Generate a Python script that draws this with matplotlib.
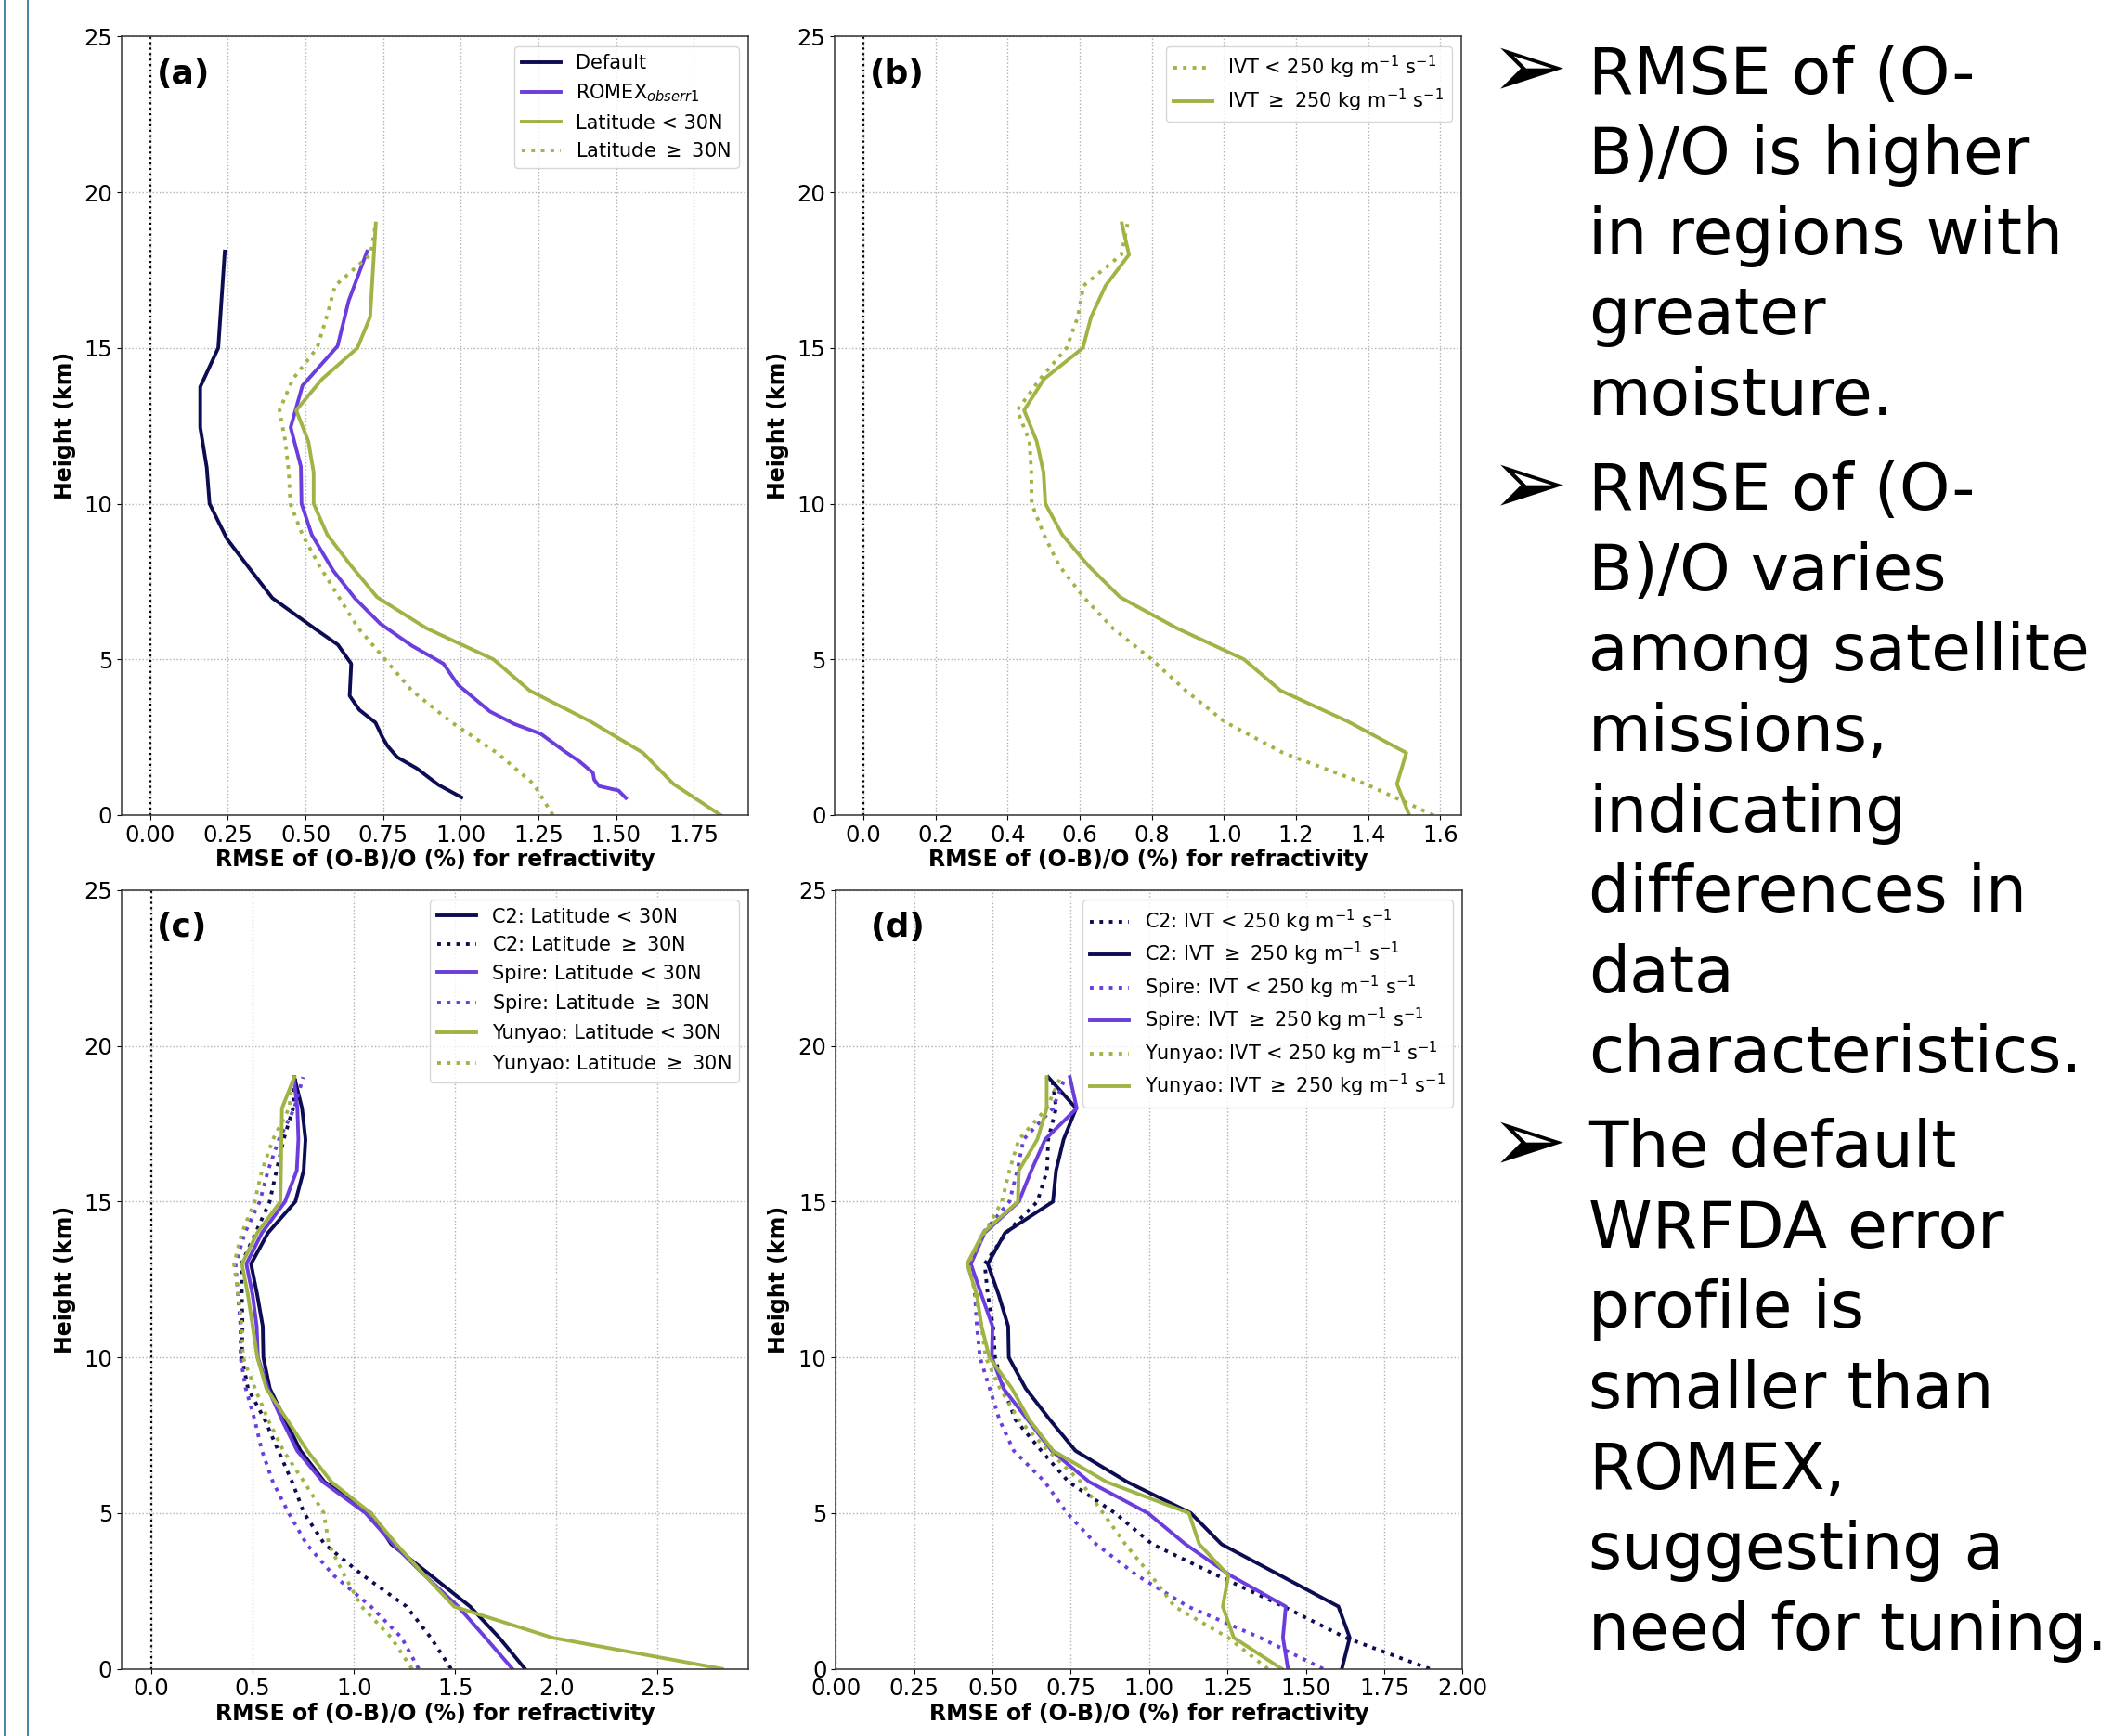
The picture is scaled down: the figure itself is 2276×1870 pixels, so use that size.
import matplotlib

matplotlib.use("Agg")
import matplotlib.pyplot as plt
from matplotlib.lines import Line2D

# ── Colours ───────────────────────────────────────────────────────────────────
C_NAVY = "#0c0c52"
C_PURPLE = "#6a3ddc"
C_GREEN = "#a0b446"
C_EDGE = "#286e96"

# ── Data ──────────────────────────────────────────────────────────────────────
levels = list(range(20))  # km, 0..19

# (a) default WRFDA profile and ROMEX obs error
default_h = [0.57, 0.97, 1.50, 1.86, 2.22, 2.49, 2.97, 3.38, 3.83, 4.86, 5.47,
             5.88, 6.33, 6.97, 7.94, 8.87, 10.0, 11.16, 12.45, 13.75, 15.0, 18.1]
default_x = [1.002, 0.928, 0.858, 0.795, 0.764, 0.748, 0.725, 0.673, 0.642, 0.647,
             0.604, 0.545, 0.482, 0.393, 0.318, 0.247, 0.191, 0.182, 0.161, 0.161,
             0.219, 0.240]
romex_h = [0.55, 0.79, 0.93, 1.14, 1.36, 1.72, 2.04, 2.61, 2.93, 3.33, 3.79, 4.18,
           4.86, 5.44, 6.15, 6.96, 7.85, 9.0, 10.0, 11.19, 12.45, 13.79, 15.06,
           16.52, 18.1]
romex_x = [1.531, 1.507, 1.445, 1.429, 1.425, 1.382, 1.335, 1.257, 1.171, 1.093,
           1.038, 0.991, 0.944, 0.842, 0.740, 0.659, 0.589, 0.52, 0.487, 0.485,
           0.452, 0.49, 0.603, 0.639, 0.698]
lat_lo = [1.836, 1.684, 1.586, 1.418, 1.221, 1.105, 0.889, 0.730, 0.647, 0.570,
          0.526, 0.526, 0.509, 0.470, 0.553, 0.667, 0.708, 0.714, 0.720, 0.726]
lat_hi = [1.296, 1.234, 1.116, 0.967, 0.842, 0.756, 0.670, 0.607, 0.545, 0.490,
          0.451, 0.446, 0.435, 0.416, 0.459, 0.537, 0.568, 0.595, 0.709, 0.726]

# (b) by IVT
ivt_lo = [1.581, 1.393, 1.164, 1.002, 0.894, 0.800, 0.692, 0.611, 0.544, 0.501,
          0.467, 0.466, 0.461, 0.427, 0.490, 0.564, 0.595, 0.611, 0.716, 0.733]
ivt_hi = [1.514, 1.480, 1.506, 1.345, 1.157, 1.056, 0.870, 0.712, 0.625, 0.552,
          0.505, 0.500, 0.481, 0.446, 0.501, 0.609, 0.632, 0.672, 0.737, 0.717]

# (c) missions by latitude
c2_lat_lo = [1.845, 1.718, 1.574, 1.380, 1.185, 1.084, 0.855, 0.737, 0.660, 0.585,
             0.553, 0.550, 0.523, 0.492, 0.576, 0.711, 0.752, 0.761, 0.744, 0.706]
c2_lat_hi = [1.480, 1.380, 1.260, 1.045, 0.855, 0.754, 0.695, 0.627, 0.560, 0.477,
             0.447, 0.450, 0.447, 0.444, 0.515, 0.584, 0.618, 0.653, 0.700, 0.710]
sp_lat_lo = [1.783, 1.650, 1.515, 1.350, 1.194, 1.058, 0.847, 0.720, 0.644, 0.576,
             0.526, 0.520, 0.500, 0.469, 0.546, 0.660, 0.718, 0.726, 0.721, 0.703]
sp_lat_hi = [1.320, 1.236, 1.084, 0.900, 0.767, 0.678, 0.600, 0.546, 0.510, 0.466,
             0.440, 0.440, 0.428, 0.416, 0.462, 0.535, 0.576, 0.630, 0.706, 0.749]
yy_lat_lo = [2.818, 1.980, 1.495, 1.350, 1.210, 1.084, 0.889, 0.770, 0.670, 0.568,
             0.523, 0.500, 0.477, 0.447, 0.523, 0.637, 0.640, 0.642, 0.645, 0.706]
yy_lat_hi = [1.287, 1.185, 1.038, 0.953, 0.876, 0.852, 0.754, 0.652, 0.576, 0.512,
             0.452, 0.447, 0.430, 0.408, 0.447, 0.510, 0.546, 0.600, 0.680, 0.700]

# (d) missions by IVT
c2_ivt_lo = [1.895, 1.627, 1.429, 1.217, 1.010, 0.891, 0.743, 0.656, 0.573, 0.535,
             0.508, 0.502, 0.485, 0.475, 0.544, 0.643, 0.674, 0.678, 0.703, 0.690]
c2_ivt_hi = [1.615, 1.640, 1.604, 1.418, 1.231, 1.133, 0.930, 0.765, 0.683, 0.606,
             0.552, 0.550, 0.520, 0.485, 0.540, 0.693, 0.703, 0.727, 0.767, 0.678]
sp_ivt_lo = [1.555, 1.354, 1.124, 0.961, 0.831, 0.738, 0.667, 0.568, 0.522, 0.491,
             0.460, 0.450, 0.444, 0.431, 0.470, 0.554, 0.579, 0.599, 0.693, 0.732]
sp_ivt_hi = [1.443, 1.427, 1.436, 1.259, 1.116, 0.996, 0.809, 0.689, 0.612, 0.535,
             0.498, 0.500, 0.465, 0.431, 0.475, 0.584, 0.624, 0.668, 0.769, 0.747]
yy_ivt_lo = [1.379, 1.252, 1.081, 1.006, 0.924, 0.853, 0.782, 0.678, 0.584, 0.524,
             0.478, 0.465, 0.446, 0.423, 0.475, 0.530, 0.554, 0.584, 0.673, 0.717]
yy_ivt_hi = [1.423, 1.270, 1.235, 1.253, 1.160, 1.127, 0.864, 0.694, 0.617, 0.562,
             0.490, 0.465, 0.450, 0.419, 0.470, 0.581, 0.584, 0.643, 0.673, 0.673]

IVT = r"250 kg m$^{-1}$ s$^{-1}$"

bullets = [
    ["RMSE of (O-", "B)/O is higher", "in regions with", "greater", "moisture."],
    ["RMSE of (O-", "B)/O varies", "among satellite", "missions,", "indicating",
     "differences in", "data", "characteristics."],
    ["The default", "WRFDA error", "profile is", "smaller than", "ROMEX,",
     "suggesting a", "need for tuning."],
]

# ── Figure ────────────────────────────────────────────────────────────────────
W, H = 2276, 1870
fig = plt.figure(figsize=(W / 100, H / 100), dpi=100, facecolor="white")

LW = 2.8
FS_TICK = 17.5
FS_LAB = 17
FS_LEG = 15


def panel(rect, letter, xlim):
    ax = fig.add_axes(rect)
    ax.axvline(0, color="black", linestyle=":", lw=1.6, zorder=1)
    ax.grid(True, linestyle=":", color="#b0b0b0", lw=1.0)
    ax.set_axisbelow(True)
    ax.set_xlim(*xlim)
    ax.set_ylim(0, 25)
    ax.set_xlabel("RMSE of (O-B)/O (%) for refractivity", fontsize=FS_LAB,
                  fontweight="bold", labelpad=2)
    ax.set_ylabel("Height (km)", fontsize=FS_LAB, fontweight="bold", labelpad=6)
    ax.tick_params(labelsize=FS_TICK)
    for s in ax.spines.values():
        s.set_color("#333333")
        s.set_linewidth(1.1)
    ax.text(0.056, 0.952, letter, transform=ax.transAxes, fontsize=26,
            fontweight="bold", ha="left", va="center")
    return ax


aw, ah = 675 / W, 838.6 / H
ax_a = panel([131 / W, 1 - 878 / H, aw, ah], "(a)", (-0.092, 1.925))
ax_b = panel([899.2 / W, 1 - 878 / H, aw, ah], "(b)", (-0.079, 1.659))
ax_c = panel([131 / W, 1 - 1797.6 / H, aw, ah], "(c)", (-0.147, 2.948))
ax_d = panel([900.3 / W, 1 - 1797.6 / H, aw, ah], "(d)", (0.0, 2.0))

# (a)
ax_a.plot(default_x, default_h, color=C_NAVY, lw=LW, label="Default")
ax_a.plot(romex_x, romex_h, color=C_PURPLE, lw=LW, label=r"ROMEX$_{obserr1}$")
ax_a.plot(lat_lo, levels, color=C_GREEN, lw=LW, label="Latitude < 30N")
ax_a.plot(lat_hi, levels, color=C_GREEN, lw=LW, ls=":", label=r"Latitude $\geq$ 30N")

# (b)
ax_b.plot(ivt_lo, levels, color=C_GREEN, lw=LW, ls=":", label="IVT < " + IVT)
ax_b.plot(ivt_hi, levels, color=C_GREEN, lw=LW, label=r"IVT $\geq$ " + IVT)

# (c)
ax_c.plot(c2_lat_lo, levels, color=C_NAVY, lw=LW, label="C2: Latitude < 30N")
ax_c.plot(c2_lat_hi, levels, color=C_NAVY, lw=LW, ls=":", label=r"C2: Latitude $\geq$ 30N")
ax_c.plot(sp_lat_lo, levels, color=C_PURPLE, lw=LW, label="Spire: Latitude < 30N")
ax_c.plot(sp_lat_hi, levels, color=C_PURPLE, lw=LW, ls=":", label=r"Spire: Latitude $\geq$ 30N")
ax_c.plot(yy_lat_lo, levels, color=C_GREEN, lw=LW, label="Yunyao: Latitude < 30N")
ax_c.plot(yy_lat_hi, levels, color=C_GREEN, lw=LW, ls=":", label=r"Yunyao: Latitude $\geq$ 30N")

# (d)
ax_d.plot(c2_ivt_lo, levels, color=C_NAVY, lw=LW, ls=":", label="C2: IVT < " + IVT)
ax_d.plot(c2_ivt_hi, levels, color=C_NAVY, lw=LW, label=r"C2: IVT $\geq$ " + IVT)
ax_d.plot(sp_ivt_lo, levels, color=C_PURPLE, lw=LW, ls=":", label="Spire: IVT < " + IVT)
ax_d.plot(sp_ivt_hi, levels, color=C_PURPLE, lw=LW, label=r"Spire: IVT $\geq$ " + IVT)
ax_d.plot(yy_ivt_lo, levels, color=C_GREEN, lw=LW, ls=":", label="Yunyao: IVT < " + IVT)
ax_d.plot(yy_ivt_hi, levels, color=C_GREEN, lw=LW, label=r"Yunyao: IVT $\geq$ " + IVT)

ax_a.legend(loc="upper right", fontsize=FS_LEG)
ax_c.legend(loc="upper right", fontsize=FS_LEG)
ax_b.legend(loc="upper right", fontsize=FS_LEG, labelspacing=0.3)
ax_d.legend(loc="upper right", fontsize=FS_LEG, labelspacing=0.3)

# ── Side notes ────────────────────────────────────────────────────────────────
FS_NOTE = 50
base = 100.7
step = 86.6
gap = 15.4
i = 0
for p, lines in enumerate(bullets):
    for j, line in enumerate(lines):
        y = base + i * step + p * gap
        if j == 0:
            fig.text(1605 / W, 1 - (y + 4) / H, "\u27a2", fontsize=72,
                     family="DejaVu Sans", ha="left", va="baseline")
        fig.text(1711 / W, 1 - y / H, line, fontsize=FS_NOTE,
                 family="DejaVu Sans", ha="left", va="baseline")
        i += 1

# slide frame lines on the left edge
for xpx in (5, 30):
    fig.add_artist(Line2D([xpx / W, xpx / W], [0, 1], color=C_EDGE, lw=1.2,
                          transform=fig.transFigure))

fig.savefig("out.png", dpi=100, facecolor="white")
